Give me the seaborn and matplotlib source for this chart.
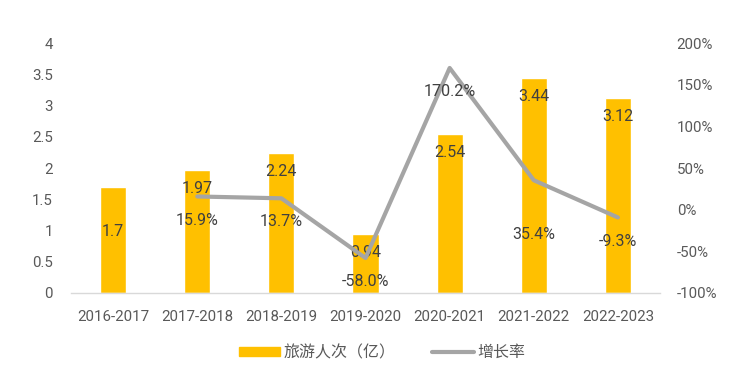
import numpy as np
import pandas as pd
import seaborn as sns
import matplotlib.pyplot as plt
from matplotlib.patches import Patch
from matplotlib.lines import Line2D

periods = ["2016-2017", "2017-2018", "2018-2019", "2019-2020",
           "2020-2021", "2021-2022", "2022-2023"]
visitors = [1.7, 1.97, 2.24, 0.94, 2.54, 3.44, 3.12]
growth_periods = periods[1:]
growth = [15.9, 13.7, -58.0, 170.2, 35.4, -9.3]

BAR = "#FFC000"
LINE = "#A5A5A5"
TXT = "#595959"
LBL = "#404040"

sns.set_style("white")
plt.rcParams['font.family'] = ['Roboto', 'Noto Sans CJK SC', 'DejaVu Sans']

fig = plt.figure(figsize=(7.56, 3.82), dpi=100)
ax = fig.add_axes([0.094, 0.233, 0.779, 0.654])

df = pd.DataFrame({"period": periods, "visitors": visitors})
sns.barplot(data=df, x="period", y="visitors", color=BAR, width=0.31,
            saturation=1, ax=ax)
ax.set_ylim(0, 4)
ax.set_xlim(-0.5, 6.5)
ax.set_yticks(np.arange(0, 4.01, 0.5))
ax.set_yticklabels(["0", "0.5", "1", "1.5", "2", "2.5", "3", "3.5", "4"])
ax.set_xlabel("")
ax.set_ylabel("")
ax.tick_params(axis="y", length=0, labelsize=10.8, colors=TXT, pad=13)
ax.tick_params(axis="x", length=0, labelsize=10.8, colors=TXT, pad=12)
for s in ["top", "right", "left"]:
    ax.spines[s].set_visible(False)
ax.spines["bottom"].set_color("#D9D9D9")
ax.spines["bottom"].set_linewidth(1)

ax2 = ax.twinx()
gx = [periods.index(p) for p in growth_periods]
gdf = pd.DataFrame({"x": gx, "growth": growth})
sns.lineplot(data=gdf, x="x", y="growth", color=LINE, linewidth=3, ax=ax2)
ax2.set_ylim(-100, 200)
ax2.set_yticks(np.arange(-100, 201, 50))
ax2.set_yticklabels([f"{v}%" for v in range(-100, 201, 50)])
ax2.set_ylabel("")
ax2.tick_params(axis="y", length=0, labelsize=10.8, colors=TXT, pad=12)
for s in ["top", "right", "left", "bottom"]:
    ax2.spines[s].set_visible(False)
ax.set_xlim(-0.5, 6.5)

# value labels
bar_off = [-32, -13, -13, -13, -13, -13, -13]
for i, v in enumerate(visitors):
    ax.annotate(f"{v:g}", (i, v), xytext=(0, bar_off[i]), textcoords="offset points",
                ha="center", va="center", fontsize=11.5, color=LBL)
line_off = [-17, -17, -17, -17, -39, -17]
for k, (x, v) in enumerate(zip(gx, growth)):
    ax2.annotate(f"{v:.1f}%", (x, v), xytext=(0, line_off[k]), textcoords="offset points",
                 ha="center", va="center", fontsize=11.5, color=LBL)

handles = [Patch(facecolor=BAR, edgecolor=BAR),
           Line2D([0], [0], color=LINE, linewidth=3)]
fig.legend(handles, ["旅游人次（亿）", "增长率"], loc="center",
           bbox_to_anchor=(0.505, 0.077), ncol=2, frameon=False,
           fontsize=11.5, labelcolor=TXT, handlelength=2.6, handleheight=0.45,
           columnspacing=2.3, handletextpad=0.2)

fig.savefig("out.png", dpi=100)
